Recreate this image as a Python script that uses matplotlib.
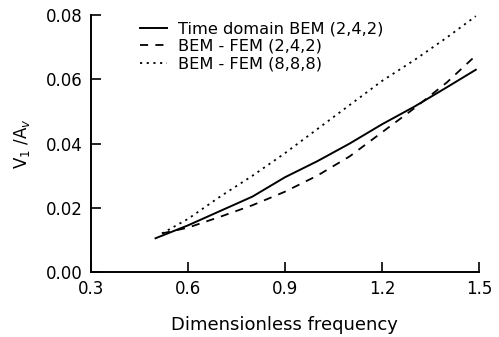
import numpy as np
from matplotlib import pyplot as plt

plt.rcParams['font.family'] = ['DejaVu Sans']

freq_solid = [0.5, 0.6, 0.7, 0.8, 0.9, 1.0, 1.1, 1.2, 1.3, 1.4, 1.49]
v_solid = [0.0105, 0.0145, 0.019, 0.0235, 0.0295, 0.0345, 0.040, 0.046, 0.0515, 0.0575, 0.063]

freq_dash = [0.52, 0.6, 0.7, 0.8, 0.9, 1.0, 1.1, 1.2, 1.3, 1.4, 1.48]
v_dash = [0.012, 0.0138, 0.0172, 0.0208, 0.025, 0.030, 0.036, 0.0435, 0.051, 0.059, 0.0665]

freq_dot = [0.52, 0.6, 0.7, 0.8, 0.9, 1.0, 1.1, 1.2, 1.3, 1.4, 1.49]
v_dot = [0.012, 0.0165, 0.0235, 0.030, 0.037, 0.0445, 0.052, 0.0595, 0.066, 0.073, 0.0797]

labels = ["Time domain BEM (2,4,2)", "BEM - FEM (2,4,2)", "BEM - FEM (8,8,8)"]
xticks = [0.3, 0.6, 0.9, 1.2, 1.5]
yticks = [0.00, 0.02, 0.04, 0.06, 0.08]

fig = plt.figure(figsize=(4.99, 3.37), dpi=100)
ax = fig.add_axes([0.182, 0.193, 0.778, 0.762])

ax.plot(freq_solid, v_solid, color='black', lw=1.4, ls='-', label=labels[0])
ax.plot(freq_dash, v_dash, color='black', lw=1.3, ls=(0, (4.5, 4)), label=labels[1])
ax.plot(freq_dot, v_dot, color='black', lw=1.3, ls=(0, (1.2, 2.5)), label=labels[2])

ax.set_xlim(0.3, 1.5)
ax.set_ylim(0.0, 0.08)
ax.set_xticks(xticks)
ax.set_xticklabels(["0.3", "0.6", "0.9", "1.2", "1.5"])
ax.set_yticks(yticks)
ax.set_yticklabels(["0.00", "0.02", "0.04", "0.06", "0.08"])
ax.tick_params(direction='in', length=7, width=1.2, labelsize=12)
ax.tick_params(axis='y', pad=6)
ax.tick_params(axis='x', pad=6)

for s in ['top', 'right']:
    ax.spines[s].set_visible(False)
for s in ['left', 'bottom']:
    ax.spines[s].set_linewidth(1.4)

ax.set_xlabel("Dimensionless frequency", fontsize=13, labelpad=13)
ax.set_ylabel("V$_1$ /A$_v$", fontsize=12, labelpad=10)

ax.legend(loc='upper left', bbox_to_anchor=(0.105, 1.008), frameon=False,
          fontsize=11.7, handlelength=1.65, handletextpad=0.7,
          borderpad=0, labelspacing=0.17)

fig.savefig("out.png", dpi=100)
